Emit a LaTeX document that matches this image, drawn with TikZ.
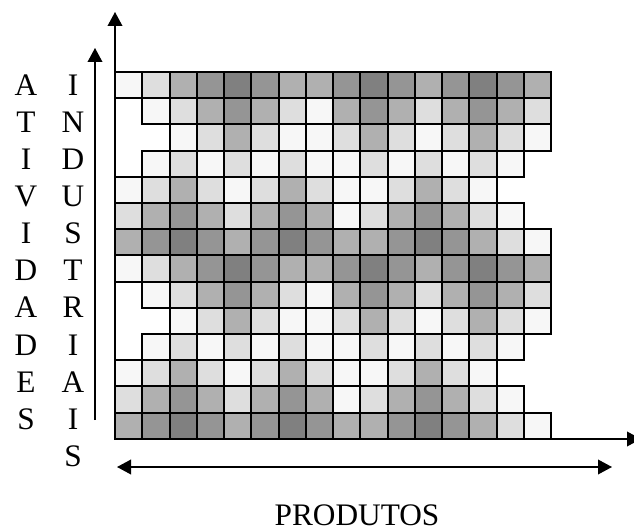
\documentclass[tikz,border=0pt]{standalone}
\usepackage{fontspec}
\setmainfont{Liberation Serif}
\usetikzlibrary{arrows.meta, positioning}
\definecolor{lvl0}{RGB}{247,247,247}
\definecolor{lvl1}{RGB}{222,222,222}
\definecolor{lvl2}{RGB}{176,176,176}
\definecolor{lvl3}{RGB}{149,149,149}
\definecolor{lvl4}{RGB}{128,128,128}
\tikzset{
  cell/.style={draw=black, line width=1.5pt},
  axis/.style={line width=1.1pt, -{Triangle[width=11pt,length=10.5pt]}},
  both/.style={line width=1.1pt, {Triangle[width=11pt,length=10.5pt]}-{Triangle[width=11pt,length=10.5pt]}},
  letter/.style={anchor=base, inner sep=0pt, font=\fontsize{23.5}{28}\selectfont}
}

\begin{document}
\begin{tikzpicture}[x=0.75pt, y=-0.75pt]
  \useasboundingbox (0,0) rectangle (634,530);
  % grid of cells, the same 7 rows twice
  \foreach \blk in {0,1} {
    \foreach \r/\s/\vals in {0/0/{0,1,2,3,4,3,2,2,3,4,3,2,3,4,3,2},
                             1/1/{0,1,2,3,2,1,0,2,3,2,1,2,3,2,1},
                             2/2/{0,1,2,1,0,0,1,2,1,0,1,2,1,0},
                             3/1/{0,1,0,1,0,1,0,0,1,0,1,0,1,0},
                             4/0/{0,1,2,1,0,1,2,1,0,0,1,2,1,0},
                             5/0/{1,2,3,2,1,2,3,2,0,1,2,3,2,1,0},
                             6/0/{2,3,4,3,2,3,4,3,2,2,3,4,3,2,1,0}} {
      \pgfmathtruncatemacro\row{\blk*7+\r}
      \foreach \v [count=\c from 0] in \vals {
        \draw[cell, fill=lvl\v] ({115+(\s+\c)*27.25}, {72+\row*26.2}) rectangle ++(27.25,26.2);
      }
    }
  }
  % axes
  \coordinate (orig) at (115,439);
  \coordinate (ytop) at (115,12);
  \coordinate (xend) at (641,439);
  \draw[axis] (orig) -- (ytop);
  \draw[axis] (orig) -- (xend);
  \coordinate (inbot) at (95,420);
  \coordinate (intop) at (95,48);
  \draw[axis] (inbot) -- (intop);
  \coordinate (prodl) at (117,467);
  \coordinate (prodr) at (612,467);
  \draw[both] (prodl) -- (prodr);
  % labels
  \foreach \ch [count=\i from 0] in {A,T,I,V,I,D,A,D,E,S}
    \node[letter] (ativ\i) at (26,96+37*\i) {\ch};
  \foreach \ch [count=\i from 0] in {I,N,D,U,S,T,R,I,A,I,S}
    \node[letter] (indu\i) at (73,96+37*\i) {\ch};
  \node[letter] (prod) at (357,525) {PRODUTOS};
\end{tikzpicture}
\end{document}
